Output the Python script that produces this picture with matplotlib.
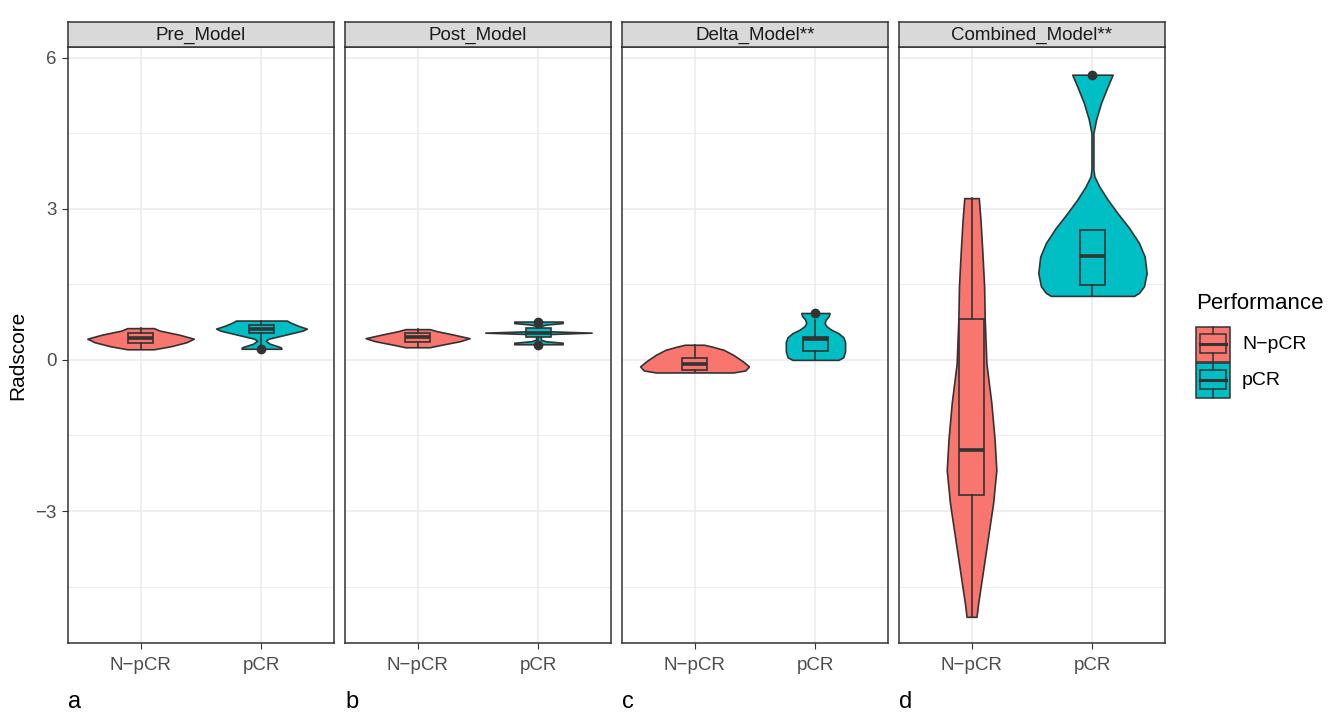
import matplotlib.pyplot as plt
from matplotlib.patches import Rectangle
from matplotlib.lines import Line2D

plt.rcParams['font.family'] = ['Liberation Sans', 'DejaVu Sans']

facets = ['Pre_Model', 'Post_Model', 'Delta_Model**', 'Combined_Model**']
groups = ['N\u2212pCR', 'pCR']
colors = ['#F8766D', '#00BFC4']
letters = ['a', 'b', 'c', 'd']

# violin outlines: radscore level and half width (x units)
pre_npcr_y = [0.21, 0.27, 0.35, 0.42, 0.50, 0.58, 0.63]
pre_npcr_w = [0.11, 0.25, 0.38, 0.44, 0.32, 0.16, 0.11]
pre_pcr_y = [0.22, 0.25, 0.32, 0.38, 0.42, 0.50, 0.58, 0.62, 0.68, 0.74, 0.78]
pre_pcr_w = [0.165, 0.16, 0.07, 0.035, 0.06, 0.20, 0.34, 0.375, 0.30, 0.24, 0.21]

post_npcr_y = [0.25, 0.30, 0.37, 0.43, 0.50, 0.57, 0.61]
post_npcr_w = [0.10, 0.20, 0.35, 0.43, 0.30, 0.16, 0.10]
post_pcr_y = [0.31, 0.34, 0.37, 0.40, 0.46, 0.51, 0.54, 0.57, 0.62, 0.67, 0.70, 0.73, 0.76]
post_pcr_w = [0.20, 0.20, 0.06, 0.02, 0.02, 0.06, 0.44, 0.06, 0.02, 0.02, 0.06, 0.20, 0.20]

delta_npcr_y = [-0.25, -0.21, -0.13, -0.03, 0.10, 0.20, 0.26, 0.30]
delta_npcr_w = [0.32, 0.42, 0.45, 0.40, 0.32, 0.24, 0.15, 0.08]
delta_pcr_y = [0.0, 0.05, 0.17, 0.36, 0.45, 0.53, 0.60, 0.67, 0.73, 0.80, 0.87, 0.93]
delta_pcr_w = [0.19, 0.23, 0.245, 0.245, 0.23, 0.19, 0.13, 0.09, 0.076, 0.085, 0.11, 0.117]

comb_npcr_y = [-5.1, -4.83, -4.17, -3.51, -2.85, -2.19, -1.59, -0.86, -0.07,
               0.81, 1.46, 2.12, 2.78, 3.21]
comb_npcr_w = [0.041, 0.055, 0.096, 0.137, 0.178, 0.205, 0.191, 0.164, 0.123,
               0.109, 0.104, 0.09, 0.074, 0.06]
comb_pcr_y = [1.27, 1.33, 1.46, 1.72, 2.05, 2.32, 2.62, 2.91, 3.18, 3.44, 3.64,
              3.78, 4.50, 4.77, 5.10, 5.43, 5.66]
comb_pcr_w = [0.344, 0.385, 0.426, 0.448, 0.432, 0.385, 0.303, 0.208, 0.126,
              0.057, 0.016, 0.008, 0.008, 0.030, 0.071, 0.126, 0.167]

# box stats: whislo, q1, median, q3, whishi
pre_npcr_box = [0.21, 0.34, 0.44, 0.54, 0.63]
pre_pcr_box = [0.30, 0.54, 0.62, 0.70, 0.78]
post_npcr_box = [0.25, 0.36, 0.45, 0.53, 0.61]
post_pcr_box = [0.40, 0.45, 0.54, 0.63, 0.68]
delta_npcr_box = [-0.25, -0.20, -0.08, 0.04, 0.30]
delta_pcr_box = [0.0, 0.17, 0.41, 0.46, 0.80]
comb_npcr_box = [-5.1, -2.68, -1.78, 0.81, 3.21]
comb_pcr_box = [1.27, 1.49, 2.07, 2.57, 2.57]

pre_fliers = [[], [0.22]]
post_fliers = [[], [0.30, 0.76]]
delta_fliers = [[], [0.93]]
comb_fliers = [[], [5.66]]

violins = [
    [(pre_npcr_y, pre_npcr_w), (pre_pcr_y, pre_pcr_w)],
    [(post_npcr_y, post_npcr_w), (post_pcr_y, post_pcr_w)],
    [(delta_npcr_y, delta_npcr_w), (delta_pcr_y, delta_pcr_w)],
    [(comb_npcr_y, comb_npcr_w), (comb_pcr_y, comb_pcr_w)],
]
boxes = [
    [pre_npcr_box, pre_pcr_box],
    [post_npcr_box, post_pcr_box],
    [delta_npcr_box, delta_pcr_box],
    [comb_npcr_box, comb_pcr_box],
]
fliers = [pre_fliers, post_fliers, delta_fliers, comb_fliers]

W, H = 1338, 714
dark = '#333333'
grid_col = '#EBEBEB'


def px_rect(x0, y0, x1, y1):
    return [x0 / W, 1 - y1 / H, (x1 - x0) / W, (y1 - y0) / H]


fig = plt.figure(figsize=(W / 100, H / 100), dpi=100)

panel_left = [68, 345, 622, 899]
panel_w = 266
for i, name in enumerate(facets):
    x0 = panel_left[i]
    ax = fig.add_axes(px_rect(x0, 47, x0 + panel_w, 643))
    ax.set_xlim(0.4, 2.6)
    ax.set_ylim(-5.62, 6.21)
    ax.set_yticks([-3, 0, 3, 6])
    ax.set_yticks([-4.5, -1.5, 1.5, 4.5], minor=True)
    ax.set_xticks([1, 2])
    ax.set_xticklabels(groups)
    ax.grid(True, which='major', color=grid_col, lw=1.1, zorder=0)
    ax.grid(True, which='minor', axis='y', color=grid_col, lw=0.6, zorder=0)
    ax.set_axisbelow(True)
    for s in ax.spines.values():
        s.set_color(dark)
        s.set_linewidth(1.1)
    ax.tick_params(axis='both', which='major', length=4, color=dark,
                   labelsize=13.5, labelcolor='#4D4D4D', pad=4)
    ax.tick_params(axis='both', which='minor', length=0)
    ax.tick_params(axis='x', pad=6)
    if i > 0:
        ax.tick_params(axis='y', which='major', labelleft=False, length=0)

    for j in range(2):
        vy, vw = violins[i][j]
        xc = j + 1
        ax.fill_betweenx(vy, [xc - w for w in vw], [xc + w for w in vw],
                         facecolor=colors[j], edgecolor=dark, lw=1.2,
                         joinstyle='round', zorder=2)
        b = boxes[i][j]
        stats = [dict(whislo=b[0], q1=b[1], med=b[2], q3=b[3], whishi=b[4],
                      fliers=fliers[i][j])]
        ax.bxp(stats, positions=[xc], widths=0.2, patch_artist=True,
               showcaps=False, manage_ticks=False,
               boxprops=dict(facecolor=colors[j], edgecolor=dark, lw=1.2),
               medianprops=dict(color=dark, lw=2.6, solid_capstyle='butt'),
               whiskerprops=dict(color=dark, lw=1.2),
               flierprops=dict(marker='o', markerfacecolor=dark,
                               markeredgecolor=dark, markersize=6),
               zorder=3)

    sax = fig.add_axes(px_rect(x0, 22, x0 + panel_w, 47))
    sax.set_xticks([])
    sax.set_yticks([])
    sax.set_facecolor('#D9D9D9')
    for s in sax.spines.values():
        s.set_color(dark)
        s.set_linewidth(1.1)
    sax.text(0.5, 0.45, name, ha='center', va='center', fontsize=13.5,
             color='#1A1A1A', transform=sax.transAxes)

    fig.text(x0 / W, 1 - 702 / H, letters[i], ha='left', va='center',
             fontsize=17, color='black')

fig.text(18 / W, 1 - 355 / H, 'Radscore', rotation=90, ha='center',
         va='center', fontsize=15, color='black')

# legend
lax = fig.add_axes(px_rect(1180, 285, 1338, 410))
lax.set_xlim(1180, 1338)
lax.set_ylim(410, 285)
lax.axis('off')
lax.text(1196, 304, 'Performance', ha='left', va='center', fontsize=16,
         color='black')
for j, lab in enumerate(['N\u2212pCR', 'pCR']):
    top = 327 + j * 36
    lax.add_patch(Rectangle((1196, top), 34, 35, facecolor=colors[j],
                            edgecolor=dark, lw=1.1))
    lax.add_patch(Rectangle((1200, top + 7.5), 26, 19, facecolor=colors[j],
                            edgecolor=dark, lw=1.1))
    lax.add_line(Line2D([1200, 1226], [top + 17, top + 17], color=dark, lw=2.2))
    lax.add_line(Line2D([1213, 1213], [top, top + 7.5], color=dark, lw=1.1))
    lax.add_line(Line2D([1213, 1213], [top + 26.5, top + 35], color=dark, lw=1.1))
    lax.text(1242, top + 17.5, lab, ha='left', va='center', fontsize=14,
             color='black')

fig.savefig('out.png', dpi=100)
